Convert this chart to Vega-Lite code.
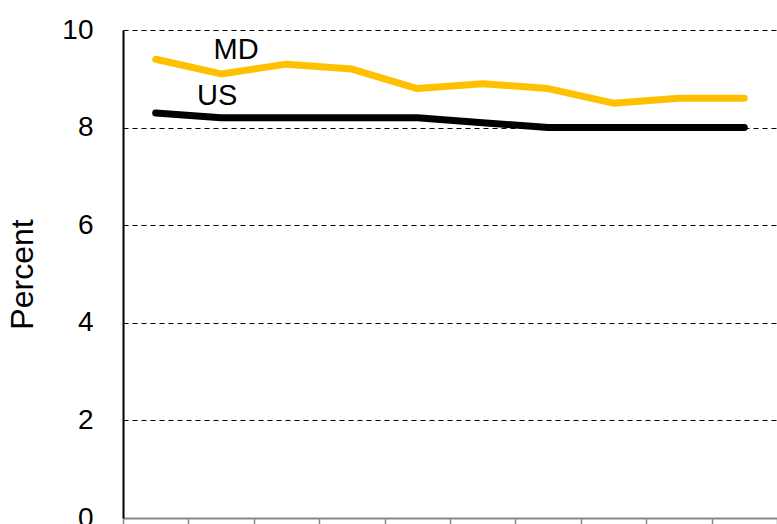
{
  "$schema": "https://vega.github.io/schema/vega-lite/v6.json",
  "width": 654,
  "height": 488,
  "autosize": {"type": "none"},
  "padding": {"left": 123, "top": 30, "right": 0, "bottom": 6},
  "background": "white",
  "config": {"view": {"stroke": null}, "font": "Liberation Sans"},
  "datasets": {
    "series": [
      {"year": "2007", "region": "MD", "value": 9.4},
      {"year": "2008", "region": "MD", "value": 9.1},
      {"year": "2009", "region": "MD", "value": 9.3},
      {"year": "2010", "region": "MD", "value": 9.2},
      {"year": "2011", "region": "MD", "value": 8.8},
      {"year": "2012", "region": "MD", "value": 8.9},
      {"year": "2013", "region": "MD", "value": 8.8},
      {"year": "2014", "region": "MD", "value": 8.5},
      {"year": "2015", "region": "MD", "value": 8.6},
      {"year": "2016", "region": "MD", "value": 8.6},
      {"year": "2007", "region": "US", "value": 8.3},
      {"year": "2008", "region": "US", "value": 8.2},
      {"year": "2009", "region": "US", "value": 8.2},
      {"year": "2010", "region": "US", "value": 8.2},
      {"year": "2011", "region": "US", "value": 8.2},
      {"year": "2012", "region": "US", "value": 8.1},
      {"year": "2013", "region": "US", "value": 8.0},
      {"year": "2014", "region": "US", "value": 8.0},
      {"year": "2015", "region": "US", "value": 8.0},
      {"year": "2016", "region": "US", "value": 8.0}
    ]
  },
  "layer": [
    {
      "data": {"name": "series"},
      "mark": {"type": "line", "strokeWidth": 7, "strokeCap": "round", "strokeJoin": "round"},
      "encoding": {
        "x": {
          "field": "year", "type": "ordinal",
          "scale": {"type": "band", "paddingInner": 0, "paddingOuter": 0},
          "bandPosition": 0.5,
          "axis": {
            "title": null, "tickBand": "extent", "grid": false, "labels": false,
            "domainColor": "#888888", "domainWidth": 2,
            "tickColor": "#888888", "tickWidth": 1.5, "tickSize": 10
          }
        },
        "y": {
          "field": "value", "type": "quantitative",
          "scale": {"domain": [0, 10], "nice": false, "zero": true},
          "axis": {
            "title": "Percent", "titleFontSize": 32, "titleFontWeight": "normal", "titleColor": "black",
            "titlePadding": 22,
            "values": [0, 2, 4, 6, 8, 10],
            "labelFontSize": 28, "labelColor": "black", "labelPadding": 30,
            "ticks": false,
            "domainColor": "black", "domainWidth": 2,
            "grid": true, "gridColor": "black", "gridDash": [5, 4], "gridWidth": 1,
            "gridOpacity": {"condition": {"test": "datum.value === 0", "value": 0}, "value": 1}
          }
        },
        "color": {
          "field": "region", "type": "nominal",
          "scale": {"domain": ["MD", "US"], "range": ["#FFC000", "#000000"]},
          "legend": null
        }
      }
    },
    {
      "data": {"values": [{"year": "2008", "label": "MD", "value": 9.59}]},
      "mark": {"type": "text", "fontSize": 29, "font": "Liberation Sans", "baseline": "middle", "align": "center", "dx": 15, "color": "black"},
      "encoding": {
        "x": {"field": "year", "type": "ordinal", "bandPosition": 0.5},
        "y": {"field": "value", "type": "quantitative"},
        "text": {"field": "label"}
      }
    },
    {
      "data": {"values": [{"year": "2008", "label": "US", "value": 8.65}]},
      "mark": {"type": "text", "fontSize": 29, "font": "Liberation Sans", "baseline": "middle", "align": "center", "dx": -4, "color": "black"},
      "encoding": {
        "x": {"field": "year", "type": "ordinal", "bandPosition": 0.5},
        "y": {"field": "value", "type": "quantitative"},
        "text": {"field": "label"}
      }
    }
  ]
}
